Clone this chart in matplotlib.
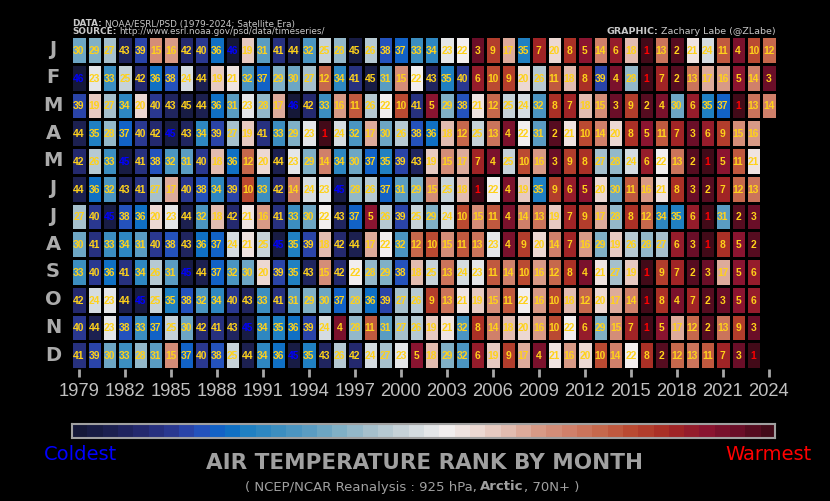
import numpy as np
import matplotlib
matplotlib.use('Agg')
import matplotlib.pyplot as plt
from matplotlib.colors import ListedColormap, BoundaryNorm, to_rgb
from matplotlib import font_manager, transforms

# ---------------- data ----------------
years = list(range(1979, 2025))
month_labels = ['J', 'F', 'M', 'A', 'M', 'J', 'J', 'A', 'S', 'O', 'N', 'D']
tick_years = list(range(1979, 2025, 3))

jan = [30, 29, 27, 43, 39, 15, 16, 42, 40, 36, 46, 19, 31, 41, 44,
       32, 25, 28, 45, 26, 38, 37, 33, 34, 23, 22, 3, 9, 17, 35, 7,
       20, 8, 5, 14, 6, 18, 1, 13, 2, 21, 24, 11, 4, 10, 12]
feb = [46, 23, 33, 25, 42, 36, 38, 24, 44, 19, 21, 32, 37, 29, 30,
       27, 12, 34, 41, 45, 31, 15, 22, 43, 35, 40, 6, 10, 9, 20, 26,
       11, 18, 8, 39, 4, 28, 1, 7, 2, 13, 17, 16, 5, 14, 3]
mar = [39, 19, 27, 34, 20, 40, 43, 45, 44, 36, 31, 23, 28, 17, 46,
       42, 33, 16, 11, 26, 22, 10, 41, 5, 29, 38, 21, 12, 25, 24, 32,
       8, 7, 18, 15, 3, 9, 2, 4, 30, 6, 35, 37, 1, 13, 14]
apr = [44, 35, 28, 37, 40, 42, 45, 43, 34, 39, 27, 19, 41, 33, 29,
       23, 1, 24, 32, 17, 30, 26, 38, 36, 18, 12, 25, 13, 4, 22, 31,
       2, 21, 10, 14, 20, 8, 5, 11, 7, 3, 6, 9, 15, 16]
may = [42, 26, 33, 45, 41, 38, 32, 31, 40, 18, 36, 12, 20, 44, 23,
       29, 14, 34, 30, 37, 35, 39, 43, 19, 15, 17, 7, 4, 25, 10, 16,
       3, 9, 8, 27, 28, 24, 6, 22, 13, 2, 1, 5, 11, 21]
jun = [44, 36, 32, 43, 41, 27, 17, 40, 38, 34, 39, 10, 33, 42, 14,
       24, 23, 45, 28, 26, 37, 31, 29, 15, 25, 18, 1, 22, 4, 19, 35,
       9, 6, 5, 20, 30, 11, 16, 21, 8, 3, 2, 7, 12, 13]
jul = [27, 40, 45, 38, 36, 20, 23, 44, 32, 18, 42, 21, 16, 41, 33,
       30, 22, 43, 37, 5, 26, 39, 25, 29, 24, 10, 15, 11, 4, 14, 13,
       19, 7, 9, 17, 28, 8, 12, 34, 35, 6, 1, 31, 2, 3]
aug = [30, 41, 33, 34, 31, 40, 38, 43, 36, 37, 24, 21, 25, 45, 35,
       39, 18, 42, 44, 17, 22, 32, 12, 10, 15, 11, 13, 23, 4, 9, 20,
       14, 7, 16, 29, 19, 26, 28, 27, 6, 3, 1, 8, 5, 2]
sep = [33, 40, 36, 41, 34, 26, 31, 45, 44, 37, 32, 30, 20, 39, 35,
       43, 15, 42, 22, 28, 29, 38, 18, 25, 13, 24, 23, 11, 14, 10, 16,
       12, 8, 4, 21, 27, 19, 1, 9, 7, 2, 3, 17, 5, 6]
oct_ = [42, 24, 23, 44, 45, 25, 35, 38, 32, 34, 40, 43, 33, 41, 31,
        29, 30, 37, 28, 36, 39, 27, 26, 9, 13, 21, 19, 15, 11, 22, 16,
        10, 18, 12, 20, 17, 14, 1, 8, 4, 7, 2, 3, 5, 6]
nov = [40, 44, 23, 38, 33, 37, 25, 30, 42, 41, 43, 45, 34, 35, 36,
       39, 24, 4, 28, 11, 31, 27, 26, 19, 21, 32, 8, 14, 18, 20, 16,
       10, 22, 6, 29, 15, 7, 1, 5, 17, 12, 2, 13, 9, 3]
dec = [41, 39, 30, 33, 28, 31, 15, 37, 40, 38, 25, 44, 34, 36, 45,
       35, 43, 26, 42, 24, 27, 23, 5, 18, 29, 32, 6, 19, 9, 17, 4,
       21, 16, 20, 10, 14, 22, 8, 2, 12, 13, 11, 7, 3, 1]

rows = [jan, feb, mar, apr, may, jun, jul, aug, sep, oct_, nov, dec]

# ---------------- fonts ----------------
avail = {f.name for f in font_manager.fontManager.ttflist}
def pick(*names):
    for n in names:
        if n in avail:
            return n
    return 'DejaVu Sans'

narrow = pick('Liberation Sans Narrow', 'DejaVu Sans Condensed', 'DejaVu Sans')
arial = pick('Liberation Sans', 'DejaVu Sans')
base = 'DejaVu Sans'

# ---------------- colours ----------------
anchors = [
    (46, '#151838'), (44, '#1c2050'), (42, '#24296e'), (40, '#2a3890'),
    (39, '#2a44a8'), (38, '#2452bc'), (37, '#1262c6'), (36, '#1070c4'),
    (35, '#2080c2'), (33, '#3c8ec0'), (31, '#5a9cc2'), (29, '#80b0c6'),
    (27, '#a6c0cc'), (25, '#c6d2d8'), (23, '#e4e6e8'), (22, '#f2eeee'),
    (20, '#ecd8d2'), (18, '#e2bcb0'), (16, '#d89a86'), (14, '#d0806a'),
    (12, '#c6684c'), (10, '#ba4a32'), (8, '#aa3026'), (7, '#a02426'),
    (5, '#8a1430'), (3, '#6a0e28'), (1, '#420a18')]
ar = np.array([a[0] for a in anchors][::-1], float)
ac = np.array([to_rgb(a[1]) for a in anchors][::-1])
ranks = np.arange(1, 47)
warm_to_cold = np.stack([np.interp(ranks, ar, ac[:, k]) for k in range(3)], axis=1)
cmap = ListedColormap(warm_to_cold)
norm = BoundaryNorm(np.arange(0.5, 47.5, 1.0), 46)

# ---------------- figure ----------------
W, H = 830, 501
fig = plt.figure(figsize=(W / 100, H / 100), dpi=100, facecolor='black')

gx0, gx1, gy0, gy1 = 71.2, 776.5, 36.0, 369.0
ax = fig.add_axes([gx0 / W, 1 - gy1 / H, (gx1 - gx0) / W, (gy1 - gy0) / H])
ax.set_facecolor('black')

data = np.full((12, len(years)), np.nan)
for i, r in enumerate(rows):
    data[i, :len(r)] = r
masked = np.ma.masked_invalid(data)

xe = np.arange(years[0] - 0.5, years[-1] + 1.0, 1.0)
ye = np.arange(13)
ax.pcolormesh(xe, ye, masked, cmap=cmap, norm=norm, edgecolors='black', linewidth=0.8)
ax.set_xlim(xe[0], xe[-1])
ax.set_ylim(12, 0)
for s in ax.spines.values():
    s.set_visible(False)

for i, r in enumerate(rows):
    mx = max(r)
    for j, v in enumerate(r):
        if v == mx:
            c = '#0000ff'
        elif v == 1:
            c = '#ff0000'
        else:
            c = '#ffd21a'
        ax.text(years[j], i + 0.5, str(v), ha='center', va='center_baseline',
                fontsize=7.4, color=c, family=arial, weight='bold')

ax.set_yticks([])
ax.set_xticks(tick_years)
ax.set_xticklabels([])
ax.tick_params(axis='x', length=6, width=2, color='#a8a8a8', direction='out', pad=0)

blend_xy = transforms.blended_transform_factory(fig.transFigure, ax.transData)
for i, m in enumerate(month_labels):
    ax.text(53 / W, i + 0.5, m, transform=blend_xy, ha='center', va='center',
            fontsize=14, weight='bold', color='#ababab', family=base)

blend_yx = transforms.blended_transform_factory(ax.transData, fig.transFigure)
for y in tick_years:
    ax.text(y, 1 - 392 / H, str(y), transform=blend_yx, ha='center', va='center',
            fontsize=13.2, color='#c0c0c0', family=arial)

# ---------------- colorbar ----------------
cax = fig.add_axes([72 / W, 1 - 438 / H, 703 / W, 14 / H])
cax.imshow(np.arange(46, 0, -1)[None, :], cmap=cmap, norm=norm, aspect='auto',
           interpolation='nearest')
cax.set_xticks([]); cax.set_yticks([])
for s in cax.spines.values():
    s.set_color('#a0a0a0'); s.set_linewidth(1.5)

fig.text(80 / W, 1 - 455 / H, 'Coldest', ha='center', va='center', fontsize=14,
         color='#0000ff', family=base)
fig.text(768 / W, 1 - 455 / H, 'Warmest', ha='center', va='center', fontsize=14,
         color='#ff0000', family=base)

title_size = 20 if narrow == 'Liberation Sans Narrow' else 15.5
fig.text(424 / W, 1 - 463 / H, 'AIR TEMPERATURE RANK BY MONTH', ha='center', va='center',
         fontsize=title_size, weight='bold', color='#a0a0a0', family=narrow)

# ---------------- rich text helper ----------------
renderer = fig.canvas.get_renderer()
def rich(x_px, y_px, parts, size, color, family, ha='left', va='center'):
    objs, widths = [], []
    for s, w, gap in parts:
        t = fig.text(0, 0, s, fontsize=size, weight=w, color=color, family=family,
                     va=va, ha='left')
        widths.append(t.get_window_extent(renderer=renderer).width + gap)
        objs.append(t)
    total = sum(widths)
    cur = x_px if ha == 'left' else (x_px - total / 2 if ha == 'center' else x_px - total)
    for t, w in zip(objs, widths):
        t.set_position((cur / W, 1 - y_px / H))
        cur += w

rich(72, 26.5, [('DATA:', 'bold', 3), ('NOAA/ESRL/PSD (1979-2024; Satellite Era)', 'normal', 0)],
     6.4, '#c8c8c8', base, va='baseline')
rich(72, 34.5, [('SOURCE:', 'bold', 3), ('http://www.esrl.noaa.gov/psd/data/timeseries/', 'normal', 0)],
     6.4, '#c8c8c8', base, va='baseline')
rich(776, 34.5, [('GRAPHIC:', 'bold', 3), ('Zachary Labe (@ZLabe)', 'normal', 0)],
     6.8, '#c8c8c8', base, ha='right', va='baseline')
rich(412, 487, [('( NCEP/NCAR Reanalysis : 925 hPa,', 'normal', 3.5), ('Arctic', 'bold', 0),
                (', 70N+ )', 'normal', 0)],
     9.5, '#a0a0a0', base, ha='center')

fig.savefig('out.png', dpi=100, facecolor='black')
